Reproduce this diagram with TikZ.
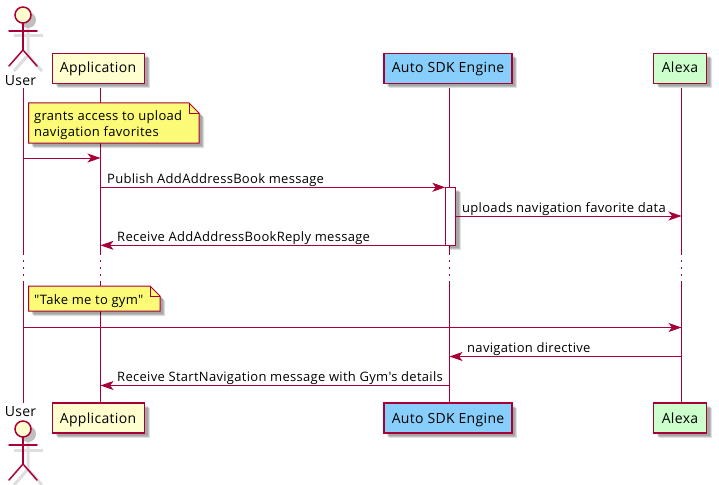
\documentclass[tikz,border=0pt]{standalone}
\usepackage{fontspec}
\newfontfamily\plainfont{Open Sans}[LetterSpace=2.3]
\usetikzlibrary{shadows,arrows.meta}
\definecolor{plred}{HTML}{A80036}
\definecolor{plbeige}{HTML}{FEFECE}
\definecolor{plblue}{HTML}{87CEFA}
\definecolor{plgreen}{HTML}{CCFFCC}
\definecolor{plnote}{HTML}{FBFB77}
\tikzset{
  softshadow/.style={
    general shadow={shadow xshift=3pt,shadow yshift=-3pt,fill=black,opacity=.12},
    general shadow={shadow xshift=4pt,shadow yshift=-4pt,fill=black,opacity=.15},
    general shadow={shadow xshift=5pt,shadow yshift=-5pt,fill=black,opacity=.12}},
  partbox/.style={draw=plred,line width=1.5pt,fill=plbeige,inner sep=0pt,minimum height=30pt,softshadow},
  parttext/.style={font=\plainfont\fontsize{14}{16}\selectfont,text=black,inner sep=0pt,anchor=base},
  lifeline/.style={draw=plred,line width=1pt},
  dotline/.style={draw=plred,line width=1pt,dash pattern=on 1.5pt off 5.5pt},
  msg/.style={draw=plred,line width=1pt,-{Stealth[inset=3.5pt,length=13pt,width=9pt,fill=plred]}},
  lbl/.style={font=\plainfont\fontsize{13}{15}\selectfont,text=black,inner sep=0pt,anchor=base west},
  stick/.style={draw=plred,line width=1.5pt,line cap=round},
  notebox/.style={draw=plred,line width=1pt,fill=plnote,softshadow},
  shadowline/.style={draw=black!13,line width=3pt},
}
\begin{document}
\begin{tikzpicture}[x=1pt,y=-1pt]
\useasboundingbox[fill=white] (0,0) rectangle (719,484);
% lifeline anchors
\coordinate (uT) at (23.5,88);
\coordinate (uB) at (23.5,403);
\coordinate (aT) at (100.5,88);
\coordinate (aB) at (100.5,403);
\coordinate (eT) at (449.5,88);
\coordinate (eB) at (449.5,403);
\coordinate (xT) at (681.5,88);
\coordinate (xB) at (681.5,403);
% lifelines
\foreach \p in {u,a,e,x}{
  \draw[lifeline] (\p T) -- (\p T |- 0,255);
  \draw[dotline] (\p T |- 0,260) -- (\p T |- 0,278);
  \draw[lifeline] (\p T |- 0,281) -- (\p B);
}
% participants
\node[partbox,minimum width=92pt] (appTop) at (98.5,68.3) {};
\node[partbox,minimum width=128pt,fill=plblue] (engTop) at (448,68.3) {};
\node[partbox,minimum width=53pt,fill=plgreen] (alxTop) at (680,68.3) {};
\node[partbox,minimum width=92pt] (appBot) at (98.5,418) {};
\node[partbox,minimum width=128pt,fill=plblue] (engBot) at (448,418) {};
\node[partbox,minimum width=53pt,fill=plgreen] (alxBot) at (680,418) {};
\node[parttext] (appTopT) at (98,73) {Application};
\node[parttext] (engTopT) at (448,73) {Auto SDK Engine};
\node[parttext] (alxTopT) at (680,73) {Alexa};
\node[parttext] (appBotT) at (98,423) {Application};
\node[parttext] (engBotT) at (448,423) {Auto SDK Engine};
\node[parttext] (alxBotT) at (680,423) {Alexa};
% actors
\foreach \dy/\n in {0/top,414/bot}{
\begin{scope}[yshift=-\dy pt]
  \draw[shadowline] (14,36) -- (43,36);
  \draw[shadowline] (28,28) -- (28,55) (28,55) -- (14,71) (28,55) -- (42,71);
  \fill[black!25] (28,20) circle (8pt);
  \draw[stick,fill=plbeige] (23,15) circle (8pt);
  \draw[stick] (23,23) -- (23,50);
  \draw[stick] (9,31) -- (37,31);
  \draw[stick] (23,50) -- (9,66);
  \draw[stick] (23,50) -- (37,66);
\end{scope}
}
\node[parttext] (userTop) at (20.5,85) {User};
\node[parttext] (userBot) at (20.5,416) {User};
% notes
\path[notebox] (28.5,103) -- (189,103) -- (199,113) -- (199,143) -- (28.5,143) -- cycle;
\draw[draw=plred,line width=1pt] (189,103) -- (189,113) -- (199,113);
\node[lbl] (note1a) at (34,121) {grants access to upload};
\node[lbl] (note1b) at (34,136) {navigation favorites};
\path[notebox] (28.5,286) -- (150,286) -- (160,296) -- (160,311) -- (28.5,311) -- cycle;
\draw[draw=plred,line width=1pt] (150,286) -- (150,296) -- (160,296);
\node[lbl] (note2) at (34,304) {"Take me to gym"};
% activation
\path[draw=plred,line width=1pt,fill=white,softshadow] (445.3,187.3) rectangle (455.7,245.3);
% messages
\coordinate (actL) at (445.3,0);
\coordinate (actR) at (455.7,0);
\draw[msg] (uT |- 0,158) -- (aT |- 0,158);
\draw[msg] (aT |- 0,187.3) -- (actL |- 0,187.3);
\draw[msg] (actR |- 0,216) -- (xT |- 0,216);
\draw[msg] (actL |- 0,245.3) -- (aT |- 0,245.3);
\draw[msg] (uT |- 0,327.5) -- (xT |- 0,327.5);
\draw[msg] (xT |- 0,356.5) -- (eT |- 0,356.5);
\draw[msg] (eT |- 0,385.5) -- (aT |- 0,385.5);
\node[lbl] (m2) at (107,183) {Publish AddAddressBook message};
\node[lbl] (m3) at (462,212) {uploads navigation favorite data};
\node[lbl] (m4) at (117,241) {Receive AddAddressBookReply message};
\node[lbl] (m6) at (467,352) {navigation directive};
\node[lbl] (m7) at (117,381) {Receive StartNavigation message with Gym's details};
\end{tikzpicture}
\end{document}
